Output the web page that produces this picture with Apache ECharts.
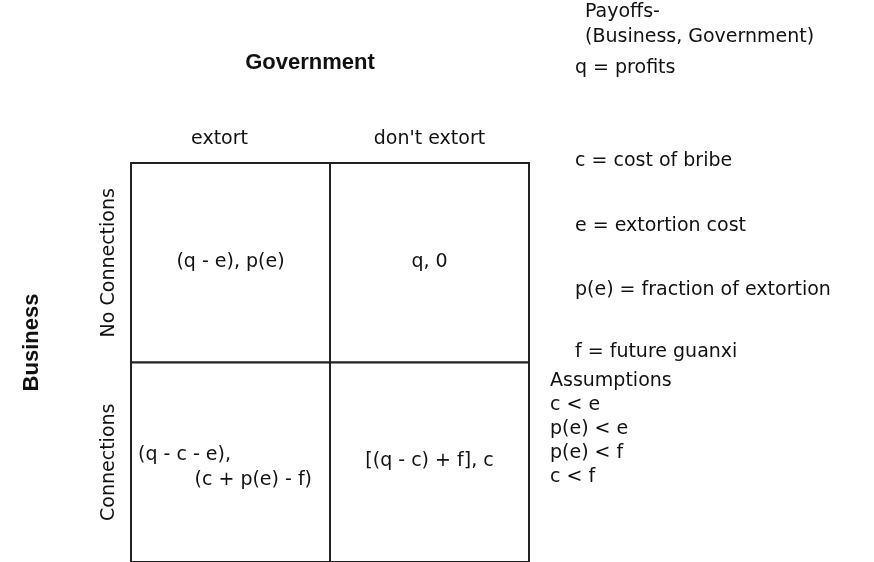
<!DOCTYPE html>
<html><head><meta charset="utf-8">
<script src="https://cdn.jsdelivr.net/npm/echarts@6/dist/echarts.min.js"></script>
<style>html,body{margin:0;padding:0;background:#fff}#c{width:874px;height:562px}</style>
</head><body><div id="c"></div>
<script>
// ---- data ----
const govStrategies = ["extort", "don't extort"];
const bizStrategies = ["No Connections", "Connections"];
const payoffCells = [
  [0, 0, "(q - e), p(e)"],
  [1, 0, "q, 0"],
  [0, 1, "(q - c - e),|(c + p(e) - f)"],
  [1, 1, "[(q - c) + f], c"]
];
const payoffNotes = ["Payoffs-", "(Business, Government)", "q = profits", "c = cost of bribe",
  "e = extortion cost", "p(e) = fraction of extortion", "f = future guanxi"];
const assumptions = ["Assumptions", "c < e", "p(e) < e", "p(e) < f", "c < f"];

// ---- layout ----
const FONT = "DejaVu Sans";
const TXT = 19;
const noteX = [585, 585, 575, 575, 575, 575, 575];
const noteY = [14, 39, 70, 163, 228, 292, 354];
const assumX = 550;
const assumY = [383, 407, 431, 455, 479];

const chart = echarts.init(document.getElementById('c'), null, {renderer: 'canvas'});

const graphics = [];
payoffNotes.forEach((t, i) => graphics.push({
  type: 'text', left: noteX[i], top: noteY[i] - 11,
  style: {text: t, font: TXT + 'px "' + FONT + '"', fill: '#111'}
}));
assumptions.forEach((t, i) => graphics.push({
  type: 'text', left: assumX, top: assumY[i] - 11,
  style: {text: t, font: TXT + 'px "' + FONT + '"', fill: '#111'}
}));

chart.setOption({
  backgroundColor: '#fff',
  animation: false,
  grid: {left: 131, top: 163, width: 398, height: 400, containLabel: false},
  xAxis: {
    type: 'category', data: govStrategies, position: 'top',
    axisLine: {show: false}, axisTick: {show: false}, splitLine: {show: false},
    axisLabel: {
      margin: 14, fontFamily: FONT, fontSize: TXT, color: '#111', interval: 0,
      formatter: (v, i) => i === 0 ? '{a|' + v + '}' : v,
      rich: {a: {fontFamily: FONT, fontSize: TXT, color: '#111', padding: [0, 22, 0, 0]}}
    },
    name: 'Government', nameLocation: 'middle', nameGap: 89,
    nameTextStyle: {fontFamily: 'Liberation Sans', fontWeight: 'bold', fontSize: 22, color: '#111', padding: [0, 40, 0, 0]}
  },
  yAxis: {
    type: 'category', data: bizStrategies, inverse: true,
    axisLine: {show: false}, axisTick: {show: false}, splitLine: {show: false},
    axisLabel: {rotate: 90, margin: 12, fontFamily: FONT, fontSize: TXT, color: '#111', interval: 0},
    name: 'Business', nameLocation: 'middle', nameGap: 88, nameRotate: 90,
    nameTextStyle: {fontFamily: 'Liberation Sans', fontWeight: 'bold', fontSize: 22, color: '#111', padding: [0, 0, 0, 40]}
  },
  graphic: graphics,
  series: [{
    type: 'custom',
    data: payoffCells,
    clip: false,
    renderItem: function (params, api) {
      const c = api.coord([api.value(0), api.value(1)]);
      const s = api.size([1, 1]);
      const x0 = c[0] - s[0] / 2, y0 = c[1] - s[1] / 2;
      const label = payoffCells[params.dataIndex][2];
      const children = [{
        type: 'rect', shape: {x: x0, y: y0, width: s[0], height: s[1]},
        style: {fill: '#fff', stroke: '#222', lineWidth: 2}
      }];
      const font = TXT + 'px "' + FONT + '"';
      if (label.indexOf('|') >= 0) {
        const parts = label.split('|');
        children.push({type: 'text', style: {text: parts[0], x: x0 + 7, y: c[1] - 7, font: font, fill: '#111', textAlign: 'left', textVerticalAlign: 'middle'}});
        children.push({type: 'text', style: {text: parts[1], x: x0 + s[0] - 18, y: c[1] + 18, font: font, fill: '#111', textAlign: 'right', textVerticalAlign: 'middle'}});
      } else {
        children.push({type: 'text', style: {text: label, x: c[0], y: c[1] - 1, font: font, fill: '#111', textAlign: 'center', textVerticalAlign: 'middle'}});
      }
      return {type: 'group', children: children};
    }
  }]
});
</script></body></html>
